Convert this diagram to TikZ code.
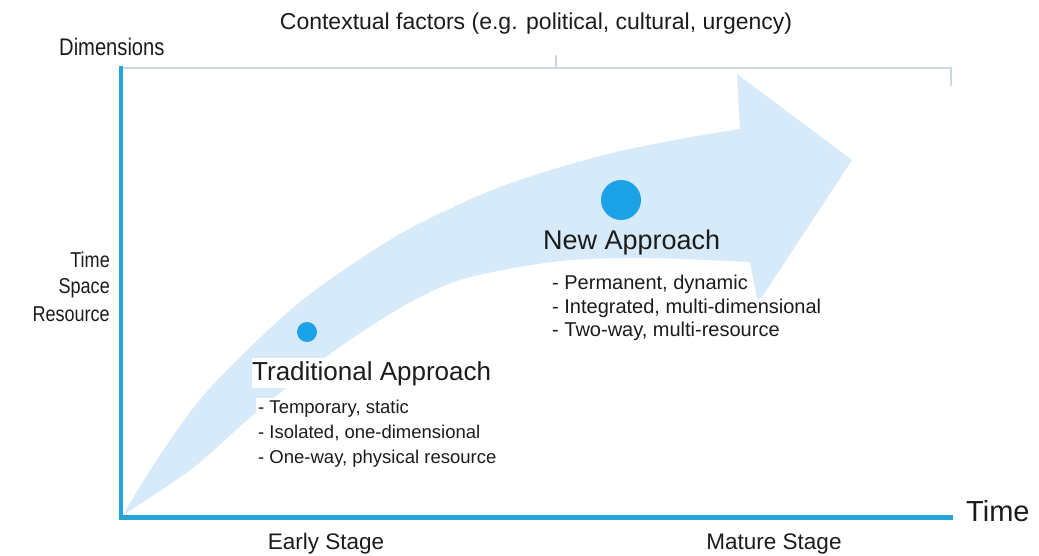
\documentclass[tikz,border=0pt]{standalone}
\usepackage{fontspec}
\setmainfont{Liberation Sans}
\newfontfamily\narrowsans{Liberation Sans}[FakeStretch=0.84]
\usetikzlibrary{positioning}
\definecolor{axisblue}{HTML}{28A3DA}
\definecolor{dotblue}{HTML}{1CA2E6}
\definecolor{arrowblue}{HTML}{D6EAF9}
\definecolor{rulegrey}{HTML}{C8DADE}
\definecolor{ink}{HTML}{1C1C1C}
\newcommand{\fsz}[1]{\fontsize{#1}{#1}\selectfont}

\begin{document}
\begin{tikzpicture}[x=1pt,y=-1pt,
  txt/.style={inner sep=0pt,text=ink},
  heading/.style={txt,anchor=base west,font=\fsz{26}},
  bulletline/.style={txt,anchor=base west,fill=white,inner xsep=2pt,text height=15pt,text depth=9pt},
  stagedot/.style={circle,fill=dotblue,inner sep=0pt}]
\useasboundingbox (0,0) rectangle (1039,556);
\fill[white] (0,0) rectangle (1039,556);

% growth arrow
\fill[arrowblue] plot[smooth] coordinates {(123,515) (160,455) (210,388) (300,302) (400,234) (500,187) (600,156) (680,139) (740,129)}
  -- (737,74) -- (852,160) -- (758,303)
  -- plot[smooth] coordinates {(750,262) (650,258) (560,261) (463,279) (400,308) (330,354) (253,415) (193,468) (123,515)} -- cycle;

% axes
\coordinate (origin) at (121,517);
\coordinate (ytop) at (121,66);
\coordinate (xstart) at (119,517);
\coordinate (xend) at (953,517);
\draw[axisblue,line width=4pt] (ytop) -- (origin);
\draw[axisblue,line width=5pt] (xstart) -- (xend);

% context bracket
\coordinate (brleft) at (123,68);
\coordinate (brright) at (951,68);
\coordinate (brend) at (951,86);
\coordinate (brmid) at (556,68);
\coordinate (brtick) at (556,55);
\draw[rulegrey,line width=1.5pt] (brleft) -- (brright) -- (brend);
\draw[rulegrey,line width=1.5pt] (brmid) -- (brtick);

% labels
\node[txt,anchor=base,font=\fsz{23}] (context) at (536,30) {Contextual factors (e.g. political, cultural, urgency)};
\node[txt,anchor=base west,font=\narrowsans\fsz{24}] (dims) at (59,56) {Dimensions};
\foreach \w [count=\i] in {Time,Space,Resource}
  \node[txt,anchor=base east,font=\narrowsans\fsz{21.5}] (dim\i) at (110,240+27*\i) {\w};
\node[txt,anchor=base west,font=\fsz{29}] (timelabel) at (966,521) {Time};
\node[txt,anchor=base,font=\fsz{22.5}] (early) at (326,549) {Early Stage};
\node[txt,anchor=base,font=\fsz{22.5}] (mature) at (774,549) {Mature Stage};

% stages
\node[stagedot,minimum size=20pt] (traddot) at (307,332) {};
\node[stagedot,minimum size=40pt] (newdot) at (621,200) {};
\node[heading,fill=white,inner ysep=3pt] (tradtitle) at (252,380) {Traditional Approach};
\foreach \b [count=\i] in {{- Temporary, static},{- Isolated, one-dimensional},{- One-way, physical resource}}
  \node[bulletline,font=\fsz{18.5}] (trad\i) at (256,388+25*\i) {\b};
\node[heading,font=\fsz{27}] (newtitle) at (543,250) {New Approach};
\foreach \b [count=\i] in {{- Permanent, dynamic},{- Integrated, multi-dimensional},{- Two-way, multi-resource}}
  \node[bulletline,font=\fsz{20}] (new\i) at (550,267+23*\i) {\b};
\end{tikzpicture}
\end{document}
